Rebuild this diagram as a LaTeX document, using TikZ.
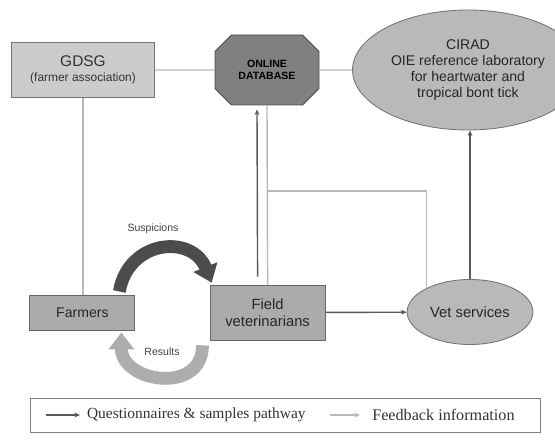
\documentclass[tikz,border=0pt]{standalone}
\usepackage{fontspec}
\setmainfont{Liberation Sans}
\newfontfamily\legendfont{Liberation Serif}
\usetikzlibrary{positioning,shapes.geometric,shapes.misc,arrows.meta}

\begin{document}
\begin{tikzpicture}[
        palebox/.style={rectangle, draw=black!55, fill=gray!40, text=black!80, line width=0.6pt, align=center},
        greybox/.style={rectangle, draw=black!60, fill=gray!66, text=black!85, line width=0.6pt, align=center},
        dbnode/.style={chamfered rectangle, chamfered rectangle xsep=0.42cm, draw=black!70, fill=gray, text=black, line width=0.6pt, align=center, font=\fontsize{7.5}{9}\selectfont\bfseries, minimum width=2.6cm, minimum height=1.75cm, inner sep=1pt},
        oval/.style={ellipse, draw=black!55, fill=gray!55, text=black!85, line width=0.6pt, align=center},
        qpath/.style={-{Stealth[length=4pt,width=3.5pt]}, black!65, line width=1pt},
        feed/.style={black!28, line width=1pt},
        feedarrow/.style={-{Stealth[length=4pt,width=3.5pt]}, black!28, line width=1pt},
        bigdark/.style={-{Triangle[length=0.42cm,width=0.62cm]}, black!70, line width=0.32cm},
        biglight/.style={-{Triangle[length=0.42cm,width=0.62cm]}, black!32, line width=0.32cm},
        small/.style={font=\fontsize{7.5}{9}\selectfont, text=black!75}
    ]
    \useasboundingbox (0,0) rectangle (13.875,11.025);

    % Top row - association, database and reference laboratory
    \node[palebox, minimum width=3.575cm, minimum height=1.375cm] (gdsg) at (2.075, 9.275)
        {{\fontsize{11}{13}\selectfont GDSG}\\[-1pt]{\fontsize{8.5}{10}\selectfont (farmer association)}};
    \node[dbnode] (db) at (6.675, 9.275) {ONLINE\\DATABASE};
    \node[oval, minimum width=4.3cm, minimum height=3cm, font=\fontsize{10}{11.5}\selectfont] (cirad) at (11.7, 9.275)
        {CIRAD\\OIE reference laboratory\\for heartwater and\\tropical bont tick};

    % Bottom row - farmers, field vets and vet services
    \node[greybox, minimum width=2.625cm, minimum height=0.875cm, font=\fontsize{10}{12}\selectfont] (farmers) at (2.06, 3.21) {Farmers};
    \node[greybox, minimum width=2.875cm, minimum height=1.375cm, font=\fontsize{10.5}{12.5}\selectfont] (fieldvet) at (6.69, 3.21) {Field\\veterinarians};
    \node[oval, minimum width=3.1cm, minimum height=1.625cm, font=\fontsize{10.5}{12.5}\selectfont] (vet) at (11.75, 3.225) {Vet services};

    % Feedback information
    \draw[feed] (gdsg) -- (db);
    \draw[feed] (db) -- (cirad);
    \draw[feed] (gdsg.south) -- (gdsg.south |- farmers.north);
    \draw[feed] (fieldvet.north) -- (db.south);
    \coordinate (fbjoin) at (6.69, 6.25);
    \draw[feed] (vet.151) |- (fbjoin);

    % Questionnaires and samples
    \draw[qpath] ([xshift=-0.25cm, yshift=0.2cm]fieldvet.north) -- ([xshift=-0.25cm, yshift=-0.1cm]db.south);
    \draw[qpath] (fieldvet) -- (vet);
    \draw[qpath] (vet.north) -- (vet.north |- cirad.south);

    % Suspicions and results loop
    \draw[bigdark] ([xshift=-0.4cm, yshift=0.08cm]farmers.north east) to[out=80, in=112, looseness=1.45] ([xshift=0.05cm, yshift=0.05cm]fieldvet.north west);
    \node[small] (susp) at (3.825, 5.3) {Suspicions};
    \draw[biglight] ([xshift=-0.18cm, yshift=-0.12cm]fieldvet.south west) to[out=-90, in=-90, looseness=1.55] ([xshift=-0.35cm, yshift=-0.05cm]farmers.south east);
    \node[small] (res) at (4.05, 2.22) {Results};

    % Legend
    \node[draw=black!50, line width=0.6pt, minimum width=12.75cm, minimum height=0.85cm] (legend) at (7.125, 0.65) {};
    \coordinate (qa) at (1.15, 0.65);
    \coordinate (qb) at (2.0, 0.65);
    \node[anchor=west, font=\legendfont\fontsize{11}{12}\selectfont, text=black!80, inner sep=0pt] (qtext) at (2.17, 0.65) {Questionnaires \& samples pathway};
    \draw[qpath, line width=0.9pt] (qa) -- (qb);
    \coordinate (fa) at (8.25, 0.65);
    \coordinate (fb) at (9.0, 0.65);
    \node[anchor=west, font=\legendfont\fontsize{11.5}{13}\selectfont, text=black!80, inner sep=0pt] (ftext) at (9.3, 0.65) {Feedback information};
    \draw[feedarrow, line width=0.9pt] (fa) -- (fb);

\end{tikzpicture}
\end{document}
